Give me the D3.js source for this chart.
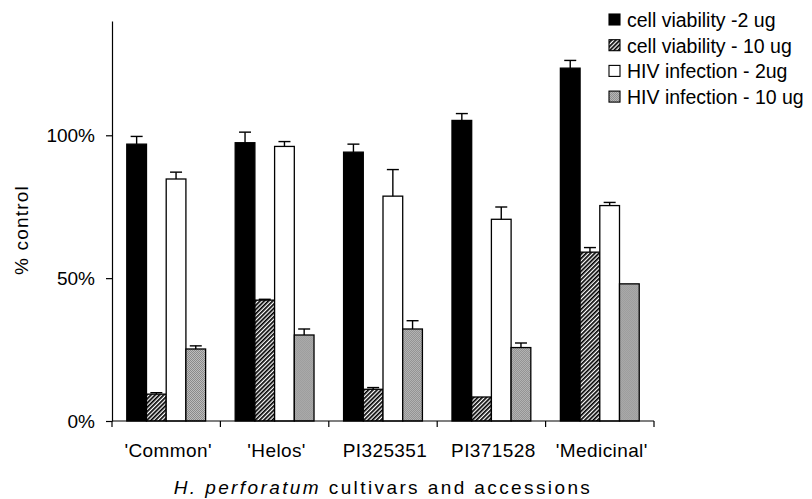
<!DOCTYPE html>
<html>
<head>
<meta charset="utf-8">
<script src="https://cdn.jsdelivr.net/npm/d3@7"></script>
<style>
  html, body { margin: 0; padding: 0; background: #fff; }
  svg { display: block; font-family: "Liberation Sans", Arial, sans-serif; }
</style>
</head>
<body>
<svg id="chart" width="812" height="499"></svg>
<script>
// values (% of control)
const categories = ["'Common'", "'Helos'", "PI325351", "PI371528", "'Medicinal'"];
const seriesNames = ["cell viability -2 ug", "cell viability - 10 ug", "HIV infection - 2ug", "HIV infection - 10 ug"];
const viability2 = [96.9, 97.4, 94.1, 105.2, 123.5];
const viability2Err = [2.7, 3.7, 2.8, 2.4, 2.7];
const viability10 = [9.4, 42.3, 11.1, 8.4, 59.1];
const viability10Err = [0.5, 0.3, 0.6, 0, 1.6];
const hiv2 = [84.7, 96.1, 78.7, 70.6, 75.4];
const hiv2Err = [2.4, 1.7, 9.3, 4.3, 1.1];
const hiv10 = [25.2, 30.1, 32.2, 25.7, 48.0];
const hiv10Err = [1.1, 2.1, 2.9, 1.6, 0];
const yTicks = [0, 50, 100];

const values = [viability2, viability10, hiv2, hiv10];
const errors = [viability2Err, viability10Err, hiv2Err, hiv10Err];
const fills = ["#000", "url(#hatch)", "#fff", "url(#dots)"];

const svg = d3.select("#chart");
const margin = { left: 112, right: 158, top: 21, bottom: 78 };
const W = 812, H = 499;

// patterns
const defs = svg.append("defs");
const hatch = defs.append("pattern")
    .attr("id", "hatch")
    .attr("patternUnits", "userSpaceOnUse")
    .attr("width", 3).attr("height", 3)
    .attr("patternTransform", "rotate(45)");
hatch.append("rect").attr("width", 3).attr("height", 3).attr("fill", "#fff");
hatch.append("rect").attr("width", 1.7).attr("height", 3).attr("fill", "#000");

const dots = defs.append("pattern")
    .attr("id", "dots")
    .attr("patternUnits", "userSpaceOnUse")
    .attr("width", 2).attr("height", 2);
dots.append("rect").attr("width", 2).attr("height", 2).attr("fill", "#bdbdbd");
dots.append("rect").attr("width", 1).attr("height", 1).attr("fill", "#8a8a8a");
dots.append("rect").attr("x", 1).attr("y", 1).attr("width", 1).attr("height", 1).attr("fill", "#8a8a8a");

// scales
const x = d3.scaleBand()
    .domain(categories)
    .range([margin.left, W - margin.right])
    .padding(0);

const gap = x.bandwidth() * 1.5 / 5.5;
const xInner = d3.scaleBand()
    .domain(d3.range(4))
    .range([gap / 2, x.bandwidth() - gap / 2])
    .padding(0);

const y = d3.scaleLinear()
    .domain([0, 140])
    .range([H - margin.bottom, margin.top]);

// bars
const groups = svg.append("g")
    .selectAll("g")
    .data(categories)
    .join("g")
    .attr("transform", d => `translate(${x(d)},0)`);

const cells = groups.selectAll("g.bar")
    .data((d, i) => d3.range(4).map(s => ({ s, v: values[s][i], e: errors[s][i] })))
    .join("g")
    .attr("class", "bar");

cells.append("rect")
    .attr("x", d => xInner(d.s))
    .attr("y", d => y(d.v))
    .attr("width", xInner.bandwidth())
    .attr("height", d => y(0) - y(d.v))
    .attr("fill", d => fills[d.s])
    .attr("stroke", "#000")
    .attr("stroke-width", 1.3);

// error bars (upper only)
const errs = cells.filter(d => d.e > 0);
errs.append("line")
    .attr("x1", d => xInner(d.s) + xInner.bandwidth() / 2)
    .attr("x2", d => xInner(d.s) + xInner.bandwidth() / 2)
    .attr("y1", d => y(d.v))
    .attr("y2", d => y(d.v + d.e))
    .attr("stroke", "#000")
    .attr("stroke-width", 1.4);
errs.append("line")
    .attr("x1", d => xInner(d.s) + xInner.bandwidth() / 2 - 6)
    .attr("x2", d => xInner(d.s) + xInner.bandwidth() / 2 + 6)
    .attr("y1", d => y(d.v + d.e))
    .attr("y2", d => y(d.v + d.e))
    .attr("stroke", "#000")
    .attr("stroke-width", 1.4);

// y axis
const yAxis = svg.append("g")
    .attr("transform", `translate(${margin.left},0)`)
    .call(d3.axisLeft(y)
        .tickValues(yTicks)
        .tickSize(6)
        .tickSizeOuter(0)
        .tickPadding(11)
        .tickFormat(d => d + "%"));
yAxis.select(".domain").attr("stroke", "#000").attr("stroke-width", 1.2);
yAxis.selectAll(".tick line").attr("stroke", "#000").attr("stroke-width", 1.2);
yAxis.selectAll(".tick text")
    .attr("font-size", 19)
    .attr("fill", "#000")
    .attr("font-family", "Liberation Sans, Arial, sans-serif");

// x axis: line with ticks at category boundaries
const xAxis = svg.append("g")
    .attr("transform", `translate(0,${y(0)})`);
xAxis.append("line")
    .attr("x1", margin.left).attr("x2", W - margin.right)
    .attr("stroke", "#000").attr("stroke-width", 1.2);
const boundaries = categories.map(c => x(c)).concat([x(categories[categories.length - 1]) + x.bandwidth()]);
xAxis.selectAll("line.tick")
    .data(boundaries)
    .join("line")
    .attr("class", "tick")
    .attr("x1", d => d).attr("x2", d => d)
    .attr("y1", 0).attr("y2", 6)
    .attr("stroke", "#000").attr("stroke-width", 1.2);
xAxis.selectAll("text")
    .data(categories)
    .join("text")
    .attr("x", d => x(d) + x.bandwidth() / 2 + 2)
    .attr("y", 36)
    .attr("text-anchor", "middle")
    .attr("font-size", 19)
    .attr("letter-spacing", 0.4)
    .text(d => d);

// axis titles
const xTitle = svg.append("text")
    .attr("x", (margin.left + W - margin.right) / 2)
    .attr("y", 494)
    .attr("text-anchor", "middle")
    .attr("font-size", 19)
    .attr("letter-spacing", 2.4);
xTitle.append("tspan").attr("font-style", "italic").text("H. perforatum");
xTitle.append("tspan").text(" cultivars and accessions");

svg.append("text")
    .attr("transform", "translate(28,230) rotate(-90)")
    .attr("text-anchor", "middle")
    .attr("font-size", 19)
    .attr("letter-spacing", 1.2)
    .text("% control");

// legend
const legend = svg.append("g")
    .selectAll("g")
    .data(seriesNames)
    .join("g")
    .attr("transform", (d, i) => `translate(609,${20 + i * 25.7})`);
legend.append("rect")
    .attr("x", 0).attr("y", -6)
    .attr("width", 11).attr("height", 11)
    .attr("fill", (d, i) => fills[i])
    .attr("stroke", "#000")
    .attr("stroke-width", 1.1);
legend.append("text")
    .attr("x", 18)
    .attr("y", 7)
    .attr("font-size", 19.5)
    .text(d => d);
</script>
</body>
</html>
